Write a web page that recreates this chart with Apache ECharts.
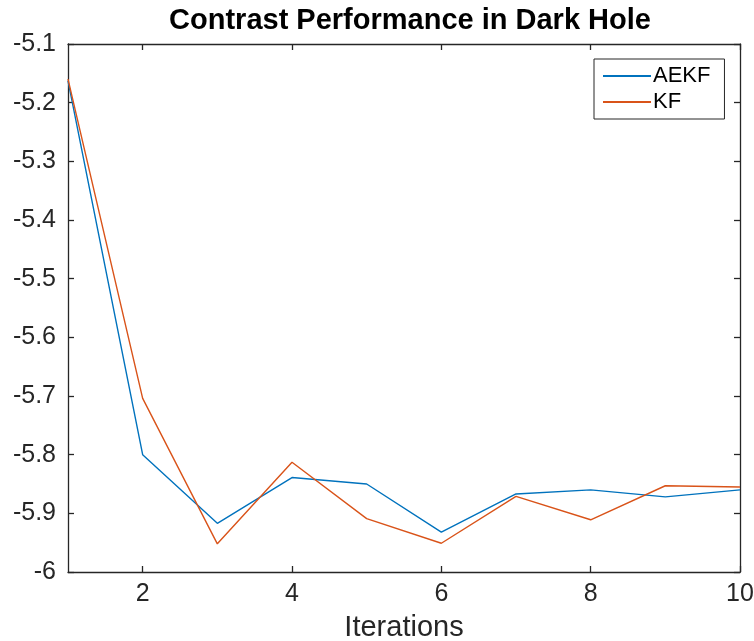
<!DOCTYPE html>
<html>
<head>
<meta charset="utf-8">
<script src="https://cdn.jsdelivr.net/npm/echarts@6/dist/echarts.min.js"></script>
<style>html,body{margin:0;padding:0;background:#fff}#chart{width:754px;height:641px}</style>
</head>
<body>
<div id="chart"></div>
<script>
// data
var iterations = [1, 2, 3, 4, 5, 6, 7, 8, 9, 10];
var aekf = [-5.163, -5.800, -5.917, -5.839, -5.850, -5.932, -5.867, -5.860, -5.872, -5.860];
var kf = [-5.160, -5.704, -5.952, -5.813, -5.909, -5.951, -5.871, -5.911, -5.853, -5.855];
var xTicks = [2, 4, 6, 8, 10];

var font = 'Liberation Sans, Arial, Helvetica, sans-serif';
var axisColor = '#262626';

function pairs(ys) {
    return iterations.map(function (x, i) { return [x, ys[i]]; });
}

var chart = echarts.init(document.getElementById('chart'));

var xBase = {
    type: 'value', min: 1, max: 10,
    axisLine: { onZero: false, lineStyle: { color: axisColor, width: 1.3 } },
    axisTick: { inside: true, length: 6, customValues: xTicks, lineStyle: { color: axisColor, width: 1.3 } },
    splitLine: { show: false }
};
var yBase = {
    type: 'value', min: -6, max: -5.1, interval: 0.1,
    axisLine: { onZero: false, lineStyle: { color: axisColor, width: 1.3 } },
    axisTick: { inside: true, length: 6, lineStyle: { color: axisColor, width: 1.3 } },
    splitLine: { show: false }
};

var option = {
    animation: false,
    backgroundColor: '#fff',
    title: {
        text: 'Contrast Performance in Dark Hole',
        left: 405, top: 1, textAlign: 'center',
        textStyle: { fontFamily: font, fontSize: 29, fontWeight: 'bold', color: '#000' }
    },
    grid: { left: 68, right: 14, top: 44, bottom: 69, outerBoundsMode: 'none', containLabel: false },
    legend: {
        left: 594, top: 59,
        orient: 'vertical',
        padding: [6, 14, 6, 9],
        itemGap: 4,
        itemWidth: 48, itemHeight: 2,
        icon: 'rect',
        borderColor: '#262626', borderWidth: 1,
        backgroundColor: '#fff',
        textStyle: { fontFamily: font, fontSize: 22, color: '#000', padding: [0, 0, 0, -3] },
        data: ['AEKF', 'KF']
    },
    xAxis: [
        Object.assign({}, xBase, {
            position: 'bottom',
            name: 'Iterations', nameLocation: 'middle', nameGap: 41,
            nameTextStyle: { fontFamily: font, fontSize: 29, color: '#262626' },
            axisLabel: { customValues: xTicks, margin: 10, fontFamily: font, fontSize: 25, color: '#262626' }
        }),
        Object.assign({}, xBase, { position: 'top', axisLabel: { show: false } })
    ],
    yAxis: [
        Object.assign({}, yBase, {
            position: 'left',
            axisLabel: {
                margin: 12, fontFamily: font, fontSize: 25, color: '#262626',
                formatter: function (v) { return String(Math.round(v * 10) / 10); }
            }
        }),
        Object.assign({}, yBase, { position: 'right', axisLabel: { show: false } })
    ],
    series: [
        {
            name: 'AEKF', type: 'line', data: pairs(aekf),
            showSymbol: false, symbol: 'none',
            lineStyle: { color: '#0072BD', width: 1.4 }, itemStyle: { color: '#0072BD' }
        },
        {
            name: 'KF', type: 'line', data: pairs(kf),
            showSymbol: false, symbol: 'none',
            lineStyle: { color: '#D95319', width: 1.4 }, itemStyle: { color: '#D95319' }
        }
    ]
};
chart.setOption(option);
</script>
</body>
</html>
